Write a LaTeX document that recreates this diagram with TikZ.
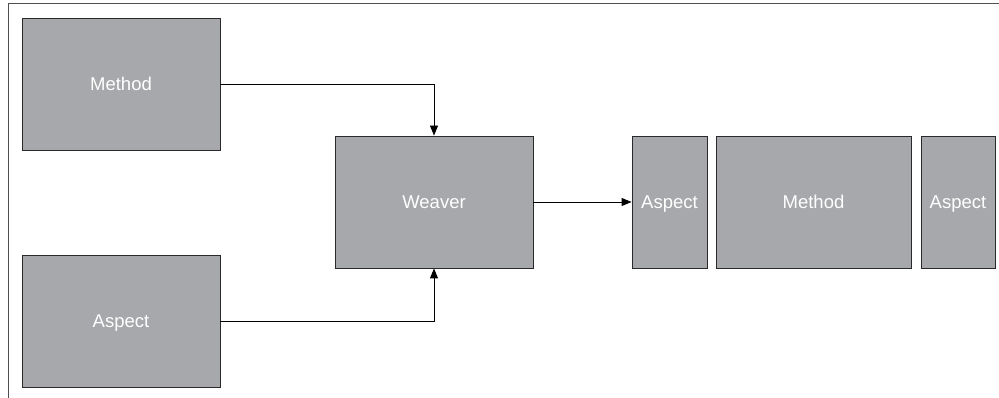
\documentclass[tikz,border=0pt]{standalone}
\usepackage{fontspec}
\setmainfont{Liberation Sans}
\usetikzlibrary{arrows.meta}
\definecolor{boxfill}{HTML}{A7A8AB}
\definecolor{boxline}{HTML}{2A2A2A}
\definecolor{framec}{HTML}{505050}
\begin{document}
\begin{tikzpicture}[x=1pt,y=-1pt,
  blk/.style={draw=boxline,line width=0.9pt,fill=boxfill,inner sep=0pt,
    text=white,text height=13.5pt,text depth=0.5pt,font=\fontsize{18.5}{20}\selectfont},
  conn/.style={line width=0.9pt,draw=black,-{Triangle[width=8pt,length=10pt]}}]
\useasboundingbox (0,0) rectangle (999,398);
\draw[framec,line width=1.7pt] (8.5,398) -- (8.5,3.5) -- (999,3.5);
\node[blk,minimum width=198pt,minimum height=132pt] (m1) at (121,84) {Method};
\node[blk,minimum width=198pt,minimum height=132pt] (a1) at (121,321) {Aspect};
\node[blk,minimum width=198pt,minimum height=132pt] (w) at (434,202) {Weaver};
\node[blk,minimum width=75pt,minimum height=132pt] (a2) at (669.5,202) {Aspect};
\node[blk,minimum width=195pt,minimum height=132pt] (m2) at (813.5,202) {Method};
\node[blk,minimum width=74pt,minimum height=132pt] (a3) at (958,202) {Aspect};
\draw[conn] (m1.east) -| (w.north);
\draw[conn] (a1.east) -| (w.south);
\draw[conn] (w.east) -- (a2.west);
\end{tikzpicture}
\end{document}
